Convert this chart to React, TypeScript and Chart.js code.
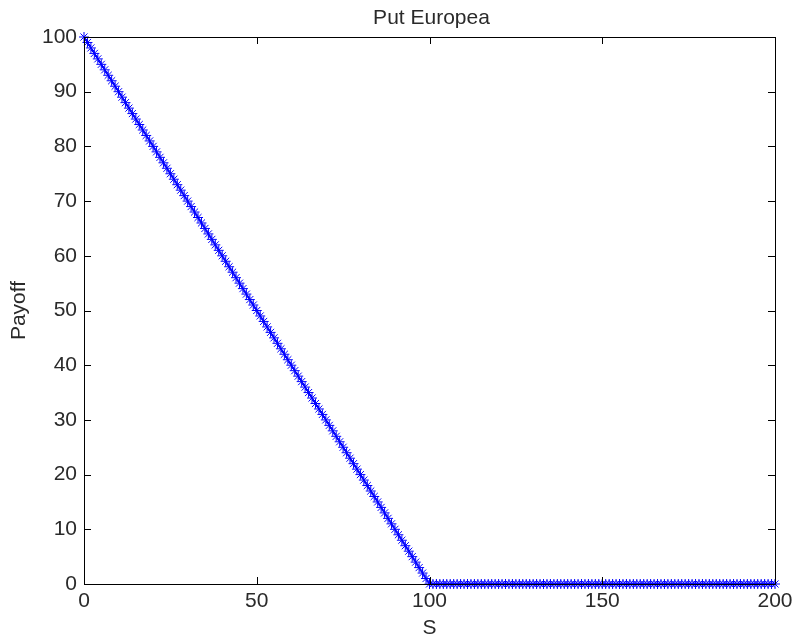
import React, { useEffect, useRef } from "react";
import { Chart, registerables } from "chart.js";

Chart.register(...registerables);

const TITLE = "Put Europea";
const X_LABEL = "S";
const Y_LABEL = "Payoff";

const S_VALUES = [
  0, 1, 2, 3, 4, 5, 6, 7, 8, 9, 10, 11, 12, 13, 14, 15, 16, 17, 18, 19,
  20, 21, 22, 23, 24, 25, 26, 27, 28, 29, 30, 31, 32, 33, 34, 35, 36, 37, 38, 39,
  40, 41, 42, 43, 44, 45, 46, 47, 48, 49, 50, 51, 52, 53, 54, 55, 56, 57, 58, 59,
  60, 61, 62, 63, 64, 65, 66, 67, 68, 69, 70, 71, 72, 73, 74, 75, 76, 77, 78, 79,
  80, 81, 82, 83, 84, 85, 86, 87, 88, 89, 90, 91, 92, 93, 94, 95, 96, 97, 98, 99,
  100, 101, 102, 103, 104, 105, 106, 107, 108, 109, 110, 111, 112, 113, 114, 115, 116, 117, 118, 119,
  120, 121, 122, 123, 124, 125, 126, 127, 128, 129, 130, 131, 132, 133, 134, 135, 136, 137, 138, 139,
  140, 141, 142, 143, 144, 145, 146, 147, 148, 149, 150, 151, 152, 153, 154, 155, 156, 157, 158, 159,
  160, 161, 162, 163, 164, 165, 166, 167, 168, 169, 170, 171, 172, 173, 174, 175, 176, 177, 178, 179,
  180, 181, 182, 183, 184, 185, 186, 187, 188, 189, 190, 191, 192, 193, 194, 195, 196, 197, 198, 199,
  200,
];

const PAYOFF = [
  100, 99, 98, 97, 96, 95, 94, 93, 92, 91, 90, 89, 88, 87, 86, 85, 84, 83, 82, 81,
  80, 79, 78, 77, 76, 75, 74, 73, 72, 71, 70, 69, 68, 67, 66, 65, 64, 63, 62, 61,
  60, 59, 58, 57, 56, 55, 54, 53, 52, 51, 50, 49, 48, 47, 46, 45, 44, 43, 42, 41,
  40, 39, 38, 37, 36, 35, 34, 33, 32, 31, 30, 29, 28, 27, 26, 25, 24, 23, 22, 21,
  20, 19, 18, 17, 16, 15, 14, 13, 12, 11, 10, 9, 8, 7, 6, 5, 4, 3, 2, 1,
  0, 0, 0, 0, 0, 0, 0, 0, 0, 0, 0, 0, 0, 0, 0, 0, 0, 0, 0, 0,
  0, 0, 0, 0, 0, 0, 0, 0, 0, 0, 0, 0, 0, 0, 0, 0, 0, 0, 0, 0,
  0, 0, 0, 0, 0, 0, 0, 0, 0, 0, 0, 0, 0, 0, 0, 0, 0, 0, 0, 0,
  0, 0, 0, 0, 0, 0, 0, 0, 0, 0, 0, 0, 0, 0, 0, 0, 0, 0, 0, 0,
  0, 0, 0, 0, 0, 0, 0, 0, 0, 0, 0, 0, 0, 0, 0, 0, 0, 0, 0, 0,
  0,
];

const X_TICKS = [0, 50, 100, 150, 200];
const Y_TICKS = [0, 10, 20, 30, 40, 50, 60, 70, 80, 90, 100];

const FONT_FAMILY = "'Liberation Sans', Arial, Helvetica, sans-serif";
const FONT_SIZE = 21;
const TEXT_COLOR = "#2a2a2a";

const boxPlugin = {
  id: "matlabBox",
  afterDatasetsDraw(chart: any) {
    const { ctx, chartArea } = chart;
    const { left, right, top, bottom } = chartArea;
    const xs = chart.scales.x;
    const ys = chart.scales.y;
    const len = 7;
    ctx.save();
    ctx.strokeStyle = "#000";
    ctx.lineWidth = 1;
    ctx.beginPath();
    ctx.rect(Math.round(left) + 0.5, Math.round(top) + 0.5, Math.round(right - left), Math.round(bottom - top));
    for (const v of X_TICKS) {
      const px = Math.round(xs.getPixelForValue(v)) + 0.5;
      ctx.moveTo(px, bottom);
      ctx.lineTo(px, bottom - len);
      ctx.moveTo(px, top);
      ctx.lineTo(px, top + len);
    }
    for (const v of Y_TICKS) {
      const py = Math.round(ys.getPixelForValue(v)) + 0.5;
      ctx.moveTo(left, py);
      ctx.lineTo(left + len, py);
      ctx.moveTo(right, py);
      ctx.lineTo(right - len, py);
    }
    ctx.stroke();
    // title centred over the axes box
    ctx.fillStyle = TEXT_COLOR;
    ctx.font = `${FONT_SIZE}px ${FONT_FAMILY}`;
    ctx.textAlign = "center";
    ctx.textBaseline = "alphabetic";
    ctx.fillText(TITLE, (left + right) / 2 + 2, 24);
    ctx.restore();
  },
};

export default function App() {
  const canvasRef = useRef<HTMLCanvasElement | null>(null);

  useEffect(() => {
    document.body.style.margin = "0";
    const canvas = canvasRef.current;
    if (!canvas) return;
    const points = S_VALUES.map((s, i) => ({ x: s, y: PAYOFF[i] }));
    const chart = new Chart(canvas, {
      type: "line",
      data: {
        datasets: [
          {
            label: Y_LABEL,
            data: points,
            borderColor: "#0000ff",
            backgroundColor: "#0000ff",
            borderWidth: 1.5,
            pointStyle: "star",
            pointRadius: 5,
            pointBorderWidth: 1,
            pointBorderColor: "#0000ff",
            pointBackgroundColor: "#0000ff",
            fill: false,
            tension: 0,
            clip: false as any,
          },
        ],
      },
      options: {
        responsive: false,
        animation: false,
        devicePixelRatio: 1,
        layout: { padding: { left: 0, right: 19, top: 37, bottom: 0 } },
        plugins: {
          legend: { display: false },
          tooltip: { enabled: false },
          title: { display: false },
        },
        scales: {
          x: {
            type: "linear",
            min: 0,
            max: 200,
            afterBuildTicks(scale: any) {
              scale.ticks = X_TICKS.map((v) => ({ value: v }));
            },
            afterFit(scale: any) {
              scale.height = 57;
              scale.paddingLeft = 0;
              scale.paddingRight = 0;
            },
            grid: { display: false, drawTicks: false },
            border: { display: false },
            ticks: {
              color: TEXT_COLOR,
              font: { family: FONT_FAMILY, size: FONT_SIZE },
              padding: 5,
              maxRotation: 0,
            },
            title: {
              display: true,
              text: X_LABEL,
              color: TEXT_COLOR,
              font: { family: FONT_FAMILY, size: FONT_SIZE },
              padding: { top: 0, bottom: 0 },
            },
          },
          y: {
            type: "linear",
            min: 0,
            max: 100,
            afterBuildTicks(scale: any) {
              scale.ticks = Y_TICKS.map((v) => ({ value: v }));
            },
            afterFit(scale: any) {
              scale.width = 84;
              scale.paddingTop = 0;
              scale.paddingBottom = 0;
            },
            grid: { display: false, drawTicks: false },
            border: { display: false },
            ticks: {
              color: TEXT_COLOR,
              font: { family: FONT_FAMILY, size: FONT_SIZE },
              padding: 7,
            },
            title: {
              display: true,
              text: Y_LABEL,
              color: TEXT_COLOR,
              font: { family: FONT_FAMILY, size: FONT_SIZE },
              padding: { top: 7, bottom: 0 },
            },
          },
        },
      },
      plugins: [boxPlugin],
    });
    return () => chart.destroy();
  }, []);

  return (
    <div style={{ width: 794, height: 641, background: "#fff" }}>
      <canvas ref={canvasRef} width={794} height={641} style={{ display: "block" }} />
    </div>
  );
}
